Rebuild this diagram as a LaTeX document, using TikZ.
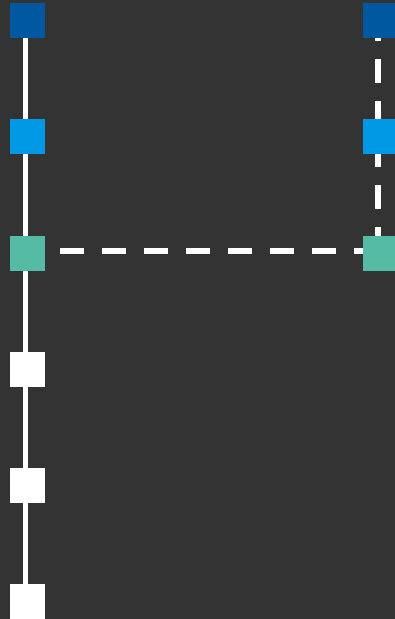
\documentclass[tikz,border=0pt]{standalone}
\usepackage{tikz}
\usetikzlibrary{positioning,calc,backgrounds}
\definecolor{bgdark}{HTML}{333333}
\definecolor{navyblue}{HTML}{0058A0}
\definecolor{skyblue}{HTML}{0099E6}
\definecolor{seateal}{HTML}{55BBA5}
\tikzset{
  % rutor
  sq/.style={rectangle,inner sep=0pt,minimum size=35pt,draw=none},
  sqnavy/.style={sq,fill=navyblue},
  sqsky/.style={sq,fill=skyblue},
  sqteal/.style={sq,fill=seateal},
  sqwhite/.style={sq,fill=white},
  % linjer
  rail/.style={draw=white,line width=5.5pt},
  link/.style={draw=white,line width=5.5pt,dash pattern=on 24pt off 18pt},
}
\begin{document}
\begin{tikzpicture}[x=1pt,y=-1pt]
\useasboundingbox (0,0) rectangle (395,619);
  \node[sqnavy] (l1) at (27.5,20.5) {};
  \node[sqsky] (l2) at (27.5,136.5) {};
  \node[sqteal] (l3) at (27.5,253.5) {};
  \node[sqwhite] (l4) at (27.5,369.5) {};
  \node[sqwhite] (l5) at (27.5,485.5) {};
  \node[sqwhite] (l6) at (27.5,601.5) {};
  \node[sqnavy] (r1) at (380.5,20.5) {};
  \node[sqsky] (r2) at (380.5,136.5) {};
  \node[sqteal] (r3) at (380.5,253.5) {};
  \coordinate (k) at ([xshift=-2.5pt,yshift=2.5pt]r3.center);
\begin{scope}[on background layer]
  \fill[bgdark] (0,0) rectangle (395,619);
  \draw[rail] ([xshift=-2pt]l1.center) -- ([xshift=-2pt]l6.center);
  \draw[link] (k) -- ([yshift=2.5pt]l3.center);
  \draw[link] (k) -- ([xshift=-2.5pt]r1.center);
\end{scope}
\end{tikzpicture}
\end{document}
